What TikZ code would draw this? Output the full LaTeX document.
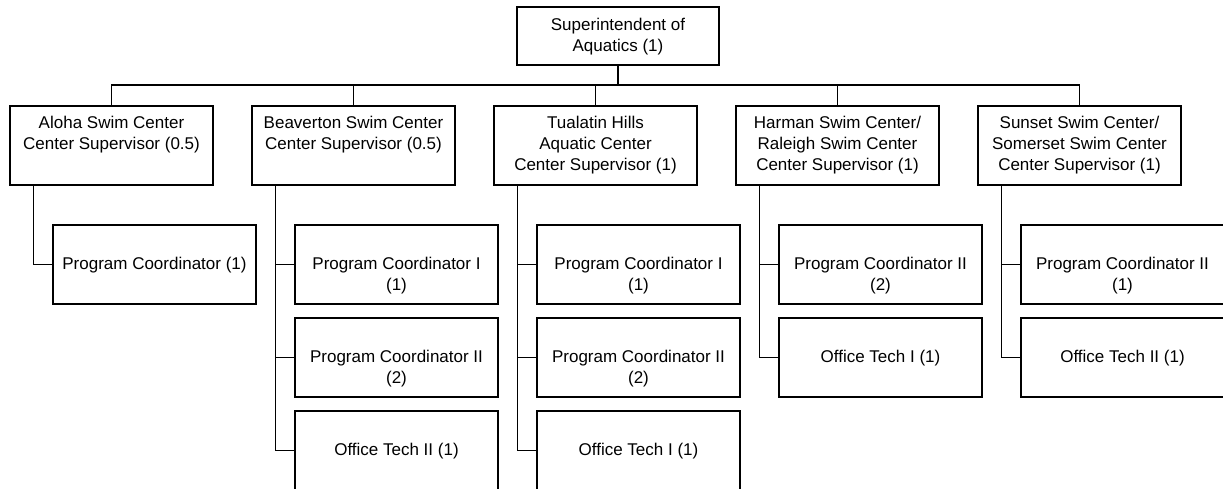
\documentclass[tikz,border=0pt]{standalone}
\usepackage{fontspec}
\setmainfont{Liberation Sans}
\newcommand\btx[1]{\parbox[t]{200pt}{\centering #1}}
\begin{document}
\begin{tikzpicture}[x={(1pt,0pt)},y={(0pt,-1pt)},
  box/.style={draw=black, line width=1.2pt, rectangle, inner sep=0pt, minimum width=203pt, minimum height=79pt},
  topbox/.style={box, minimum width=202pt, minimum height=58pt},
  txt/.style={anchor=base, inner sep=0pt, font=\fontsize{17pt}{21pt}\selectfont},
  conn/.style={draw=black, line width=1.2pt}]
\clip (0,0) rectangle (1223,489);
% top
\node[topbox] (top) at (618,36) {};
\node[txt] (top-t) at ([yshift=-24pt]top.north) {\btx{Superintendent of\\Aquatics (1)}};
% level 2
\node[box] (aloha) at (111.5,145.5) {};
\node[box] (beav) at (353.5,145.5) {};
\node[box] (tual) at (595.5,145.5) {};
\node[box] (harm) at (837.5,145.5) {};
\node[box] (suns) at (1079.5,145.5) {};
\node[txt] (aloha-t) at ([yshift=-23pt]aloha.north) {\btx{Aloha Swim Center\\Center Supervisor (0.5)}};
\node[txt] (beav-t) at ([yshift=-23pt]beav.north) {\btx{Beaverton Swim Center\\Center Supervisor (0.5)}};
\node[txt] (tual-t) at ([yshift=-23pt]tual.north) {\btx{Tualatin Hills\\Aquatic Center\\Center Supervisor (1)}};
\node[txt] (harm-t) at ([yshift=-23pt]harm.north) {\btx{Harman Swim Center/\\Raleigh Swim Center\\Center Supervisor (1)}};
\node[txt] (suns-t) at ([yshift=-23pt]suns.north) {\btx{Sunset Swim Center/\\Somerset Swim Center\\Center Supervisor (1)}};
% level 3
\node[box] (aloha1) at (154.5,264.5) {};
\node[box] (beav1) at (396.5,264.5) {};
\node[box] (beav2) at (396.5,357.5) {};
\node[box] (beav3) at (396.5,450.5) {};
\node[box] (tual1) at (638.5,264.5) {};
\node[box] (tual2) at (638.5,357.5) {};
\node[box] (tual3) at (638.5,450.5) {};
\node[box] (harm1) at (880.5,264.5) {};
\node[box] (harm2) at (880.5,357.5) {};
\node[box] (suns1) at (1122.5,264.5) {};
\node[box] (suns2) at (1122.5,357.5) {};
\node[txt] (aloha1-t) at ([yshift=-45pt]aloha1.north) {\btx{Program Coordinator (1)}};
\node[txt] (beav1-t) at ([yshift=-45pt]beav1.north) {\btx{Program Coordinator I\\(1)}};
\node[txt] (beav2-t) at ([yshift=-45pt]beav2.north) {\btx{Program Coordinator II\\(2)}};
\node[txt] (beav3-t) at ([yshift=-45pt]beav3.north) {\btx{Office Tech II (1)}};
\node[txt] (tual1-t) at ([yshift=-45pt]tual1.north) {\btx{Program Coordinator I\\(1)}};
\node[txt] (tual2-t) at ([yshift=-45pt]tual2.north) {\btx{Program Coordinator II\\(2)}};
\node[txt] (tual3-t) at ([yshift=-45pt]tual3.north) {\btx{Office Tech I (1)}};
\node[txt] (harm1-t) at ([yshift=-45pt]harm1.north) {\btx{Program Coordinator II\\(2)}};
\node[txt] (harm2-t) at ([yshift=-45pt]harm2.north) {\btx{Office Tech I (1)}};
\node[txt] (suns1-t) at ([yshift=-45pt]suns1.north) {\btx{Program Coordinator II\\(1)}};
\node[txt] (suns2-t) at ([yshift=-45pt]suns2.north) {\btx{Office Tech II (1)}};
% bus
\coordinate (bus) at (618,85);
\draw[conn] (top.south) -- (bus);
\draw[conn] (aloha.north) -- (aloha.north |- bus) -- (suns.north |- bus) -- (suns.north);
\draw[conn] (beav.north) -- (beav.north |- bus);
\draw[conn] (tual.north) -- (tual.north |- bus);
\draw[conn] (harm.north) -- (harm.north |- bus);
% children connectors
\coordinate (ac) at ([xshift=24pt]aloha.south west);
\coordinate (bc) at ([xshift=24pt]beav.south west);
\coordinate (tc) at ([xshift=24pt]tual.south west);
\coordinate (hc) at ([xshift=24pt]harm.south west);
\coordinate (sc) at ([xshift=24pt]suns.south west);
\draw[conn] (ac) |- (aloha1.west);
\draw[conn] (bc) |- (beav3.west);
\draw[conn] (beav1.west) -- (beav1.west -| bc);
\draw[conn] (beav2.west) -- (beav2.west -| bc);
\draw[conn] (tc) |- (tual3.west);
\draw[conn] (tual1.west) -- (tual1.west -| tc);
\draw[conn] (tual2.west) -- (tual2.west -| tc);
\draw[conn] (hc) |- (harm2.west);
\draw[conn] (harm1.west) -- (harm1.west -| hc);
\draw[conn] (sc) |- (suns2.west);
\draw[conn] (suns1.west) -- (suns1.west -| sc);
\end{tikzpicture}
\end{document}
